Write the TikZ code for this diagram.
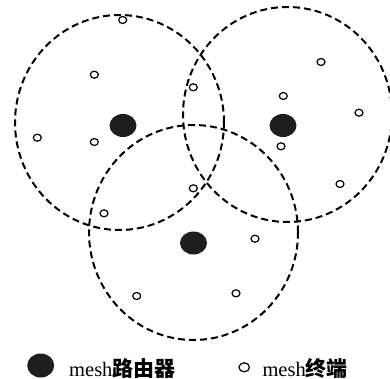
\documentclass[tikz,border=0pt]{standalone}
\usepackage{fontspec}
\setmainfont{Liberation Serif}
\newfontfamily\cjk{Noto Sans CJK SC}
\usetikzlibrary{shapes.geometric}
\definecolor{dark}{HTML}{1E1E1E}
\newcommand{\cjktext}[1]{{\fontsize{21}{22}\selectfont\cjk\bfseries #1}}
\tikzset{
  cover/.style={draw=black, line width=2pt, dash pattern=on 7pt off 4pt},
  router/.style={ellipse, fill=dark, draw=none, minimum width=27pt, minimum height=23pt, inner sep=0pt},
  term/.style={ellipse, draw=black, line width=1.2pt, fill=white, minimum width=8pt, minimum height=7pt, inner sep=0pt},
  legtext/.style={anchor=base west, inner sep=0pt, font=\fontsize{20.5}{22}\selectfont}
}
\begin{document}
\begin{tikzpicture}[x=1pt,y=-1pt]
\useasboundingbox (0,0) rectangle (390,379);
\begin{scope}
\clip (0,0) rectangle (390,379);
\draw[cover] (119.5,122.5) ellipse [x radius=104.5pt, y radius=107.5pt];
\draw[cover] (287.5,114.5) ellipse [x radius=104.5pt, y radius=107.5pt];
\draw[cover] (193.5,232.5) ellipse [x radius=104.5pt, y radius=107.5pt];
\end{scope}
% routers
\node[router] (r1) at (123,125.5) {};
\node[router] (r2) at (283,125.5) {};
\node[router] (r3) at (193.5,243) {};
% terminals
\node[term] (t1) at (122.7,20) {};
\node[term] (t2) at (94.3,74.7) {};
\node[term] (t3) at (193.3,87.3) {};
\node[term] (t4) at (321,62) {};
\node[term] (t5) at (283.3,96) {};
\node[term] (t6) at (359,112.7) {};
\node[term] (t7) at (37.3,137.7) {};
\node[term] (t8) at (94.3,142) {};
\node[term] (t9) at (281,146.3) {};
\node[term] (t10) at (340,184) {};
\node[term] (t11) at (193.3,188.3) {};
\node[term] (t12) at (104,213.3) {};
\node[term] (t13) at (255,238.7) {};
\node[term] (t14) at (136.7,296) {};
\node[term] (t15) at (236,293.3) {};
% legend
\node[router, minimum width=27pt, minimum height=24pt] (lr) at (40.7,365.5) {};
\node[legtext] (lrt) at (69,376) {mesh\cjktext{路由器}};
\node[term, minimum width=10.5pt, minimum height=9pt] (lt) at (244.2,367.3) {};
\node[legtext] (ltt) at (262.3,376) {mesh\cjktext{终端}};
\end{tikzpicture}
\end{document}
